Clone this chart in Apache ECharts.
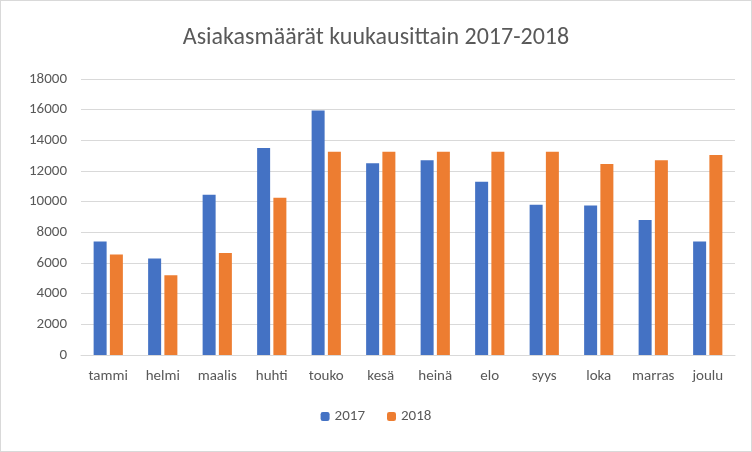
<!DOCTYPE html>
<html><head><meta charset="utf-8">
<script src="https://cdn.jsdelivr.net/npm/echarts@6/dist/echarts.min.js"></script>
<style>html,body{margin:0;padding:0;background:#fff}#c{width:750px;height:450px;border:1px solid #d9d9d9}</style>
</head><body><div id="c"></div>
<script>
const categories=['tammi','helmi','maalis','huhti','touko','kesä','heinä','elo','syys','loka','marras','joulu'];
const s2017=[7400,6300,10450,13500,15950,12500,12700,11300,9800,9750,8800,7400];
const s2018=[6550,5200,6650,10250,13250,13250,13250,13250,13250,12450,12700,13050];
const yTicks={min:0,max:18000,interval:2000};
const chart=echarts.init(document.getElementById('c'));
const txt={color:'#595959',fontFamily:'Calibri, Carlito, "Liberation Sans", sans-serif'};
chart.setOption({
 animation:false,
 title:{text:'Asiakasmäärät kuukausittain 2017-2018',left:'center',top:20,textStyle:{...txt,fontSize:24,fontWeight:'normal'}},
 legend:{bottom:22,itemWidth:9,itemHeight:9,itemGap:22,textStyle:{...txt,fontSize:15},data:['2017','2018']},
 grid:{left:80,right:16,top:78,bottom:96},
 xAxis:{type:'category',data:categories,axisTick:{show:false},axisLine:{lineStyle:{color:'#d9d9d9'}},axisLabel:{...txt,fontSize:15,margin:14,interval:0}},
 yAxis:{type:'value',...yTicks,axisLabel:{...txt,fontSize:15,margin:14,formatter:v=>String(v)},splitLine:{lineStyle:{color:'#d9d9d9'}}},
 series:[
  {name:'2017',type:'bar',data:s2017,itemStyle:{color:'#4472C4'},barWidth:13,barGap:'25%'},
  {name:'2018',type:'bar',data:s2018,itemStyle:{color:'#ED7D31'},barWidth:13}
 ]
});
</script></body></html>
